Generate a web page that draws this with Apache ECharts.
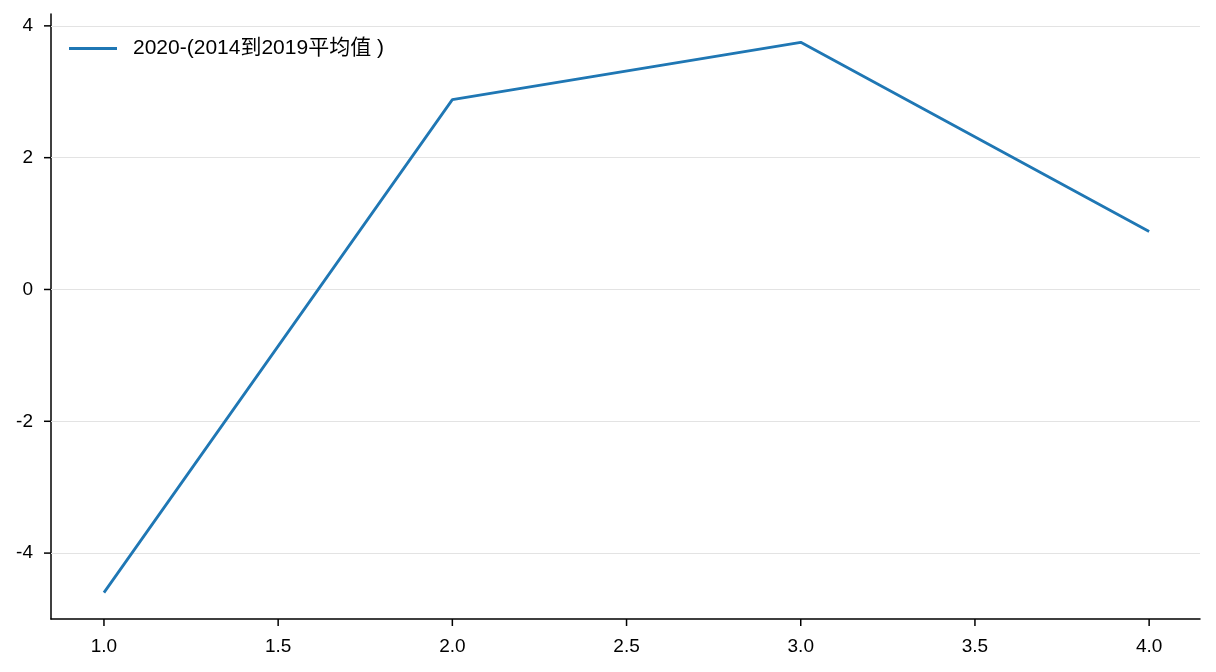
<!DOCTYPE html>
<html lang="zh">

<head>
    <title>echarts</title>
    <meta http-equiv="content-type" content="text/html; charset=utf-8">
    <script src="https://cdn.jsdelivr.net/npm/echarts@6/dist/echarts.min.js"></script>
</head>

<style>
    * {
        margin: 0;
        padding: 0;
        box-sizing: border-box;
    }

    html,
    body {
        width: 100%;
        height: 100%;
        background: #fff;
    }

    #main {
        width: 1216px;
        height: 672px;
    }
</style>

<body>
    <div id="main"></div>
</body>
<script>
    // 数据
    const seriesName = '2020-(2014到2019平均值 )';
    const xValues = [1, 2, 3, 4];
    const yValues = [-4.6, 2.88, 3.75, 0.88];
    const xTicks = [1.0, 1.5, 2.0, 2.5, 3.0, 3.5, 4.0];
    const yTicks = [-4, -2, 0, 2, 4];

    const font = 'Liberation Sans, Arial, Noto Sans CJK SC, sans-serif';
    const myChart = echarts.init(document.getElementById('main'));

    const L = 51, R = 16, T = 14, B = 53;
    const xMin = 0.848, xMax = 4.146, yMin = -5, yMax = 4.18;
    const tickLen = 7;

    const tickLabel = { fontFamily: font, fontSize: 19, color: '#000' };
    const noLabel = { show: false };

    myChart.setOption({
        animation: false,
        grid: { left: L, right: R, top: T, bottom: B, outerBoundsMode: 'none' },
        legend: {
            left: 69,
            top: 38,
            padding: 0,
            itemWidth: 48,
            itemHeight: 24,
            textStyle: { fontFamily: font, fontSize: 21, color: '#000', padding: [0, 0, 0, 11] },
            data: [{ name: seriesName, icon: 'path://M0,10.5 L48,10.5 L48,13.5 L0,13.5 Z' }]
        },
        xAxis: {
            type: 'value', min: xMin, max: xMax,
            splitLine: { show: false },
            axisLine: { onZero: false, lineStyle: { color: '#000', width: 1.5 } },
            axisTick: { show: false },
            axisLabel: Object.assign({
                customValues: xTicks, margin: 18, formatter: v => v.toFixed(1)
            }, tickLabel)
        },
        yAxis: {
            type: 'value', min: yMin, max: yMax,
            splitLine: { show: false },
            axisLine: { show: true, onZero: false, lineStyle: { color: '#000', width: 1.5 } },
            axisTick: { show: false },
            axisLabel: Object.assign({
                customValues: yTicks, margin: 18, formatter: v => String(v)
            }, tickLabel)
        },
        series: [
            {
                // 网格线
                type: 'line',
                data: [],
                z: 0,
                silent: true,
                markLine: {
                    silent: true,
                    symbol: 'none',
                    label: noLabel,
                    lineStyle: { color: '#e3e3e3', type: 'solid', width: 1.2 },
                    data: yTicks.map(v => ({ yAxis: v }))
                }
            },
            {
                name: seriesName,
                type: 'line',
                z: 5,
                data: xValues.map((x, i) => [x, yValues[i]]),
                showSymbol: false,
                lineStyle: { color: '#1f77b4', width: 2.8 },
                itemStyle: { color: '#1f77b4' }
            }
        ]
    });

    // 刻度线：位置由坐标轴换算得到，画在坐标区外
    const tickStyle = { stroke: '#000', lineWidth: 1.5 };
    const ticks = [];
    xTicks.forEach(v => {
        const p = myChart.convertToPixel({ gridIndex: 0 }, [v, yMin]);
        ticks.push({ type: 'line', silent: true, z: 10,
            shape: { x1: p[0], y1: p[1], x2: p[0], y2: p[1] + tickLen }, style: tickStyle });
    });
    yTicks.forEach(v => {
        const p = myChart.convertToPixel({ gridIndex: 0 }, [xMin, v]);
        ticks.push({ type: 'line', silent: true, z: 10,
            shape: { x1: p[0], y1: p[1], x2: p[0] - tickLen, y2: p[1] }, style: tickStyle });
    });
    myChart.setOption({ graphic: ticks });
</script>

</html>
